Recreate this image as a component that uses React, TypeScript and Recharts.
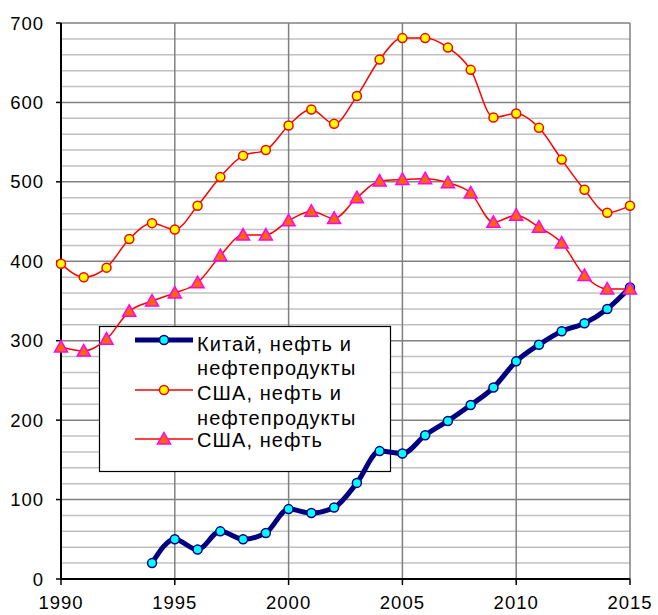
import { LineChart, Line, XAxis, YAxis, CartesianGrid } from 'recharts';

const YEARS = [
  1990, 1991, 1992, 1993, 1994, 1995, 1996, 1997, 1998, 1999, 2000, 2001, 2002,
  2003, 2004, 2005, 2006, 2007, 2008, 2009, 2010, 2011, 2012, 2013, 2014, 2015,
];

// Китай, нефть и нефтепродукты (с 1994 г.)
const CHINA_YEARS = YEARS.slice(4);
const CHINA = [
  20, 50, 37, 60, 50, 58, 88, 83, 90, 121, 161, 158, 181, 199, 219, 241, 274,
  295, 312, 322, 340, 367,
];

// США, нефть и нефтепродукты
const USA_TOTAL = [
  397, 380, 392, 428, 448, 440, 470, 506, 533, 540, 571, 591, 573, 608, 654,
  681, 681, 669, 641, 581, 586, 568, 528, 490, 461, 470,
];

// США, нефть
const USA_CRUDE = [
  292, 287, 302, 337, 350, 360, 373, 407, 433, 433, 451, 463, 454, 480, 501,
  503, 504, 499, 486, 449, 458, 443, 423, 382, 365, 365,
];

const Y_TICKS = [0, 100, 200, 300, 400, 500, 600, 700];
const X_TICKS = [1990, 1995, 2000, 2005, 2010, 2015];
const MINOR_GRID = Array.from({ length: 35 }, (_, i) => (i + 1) * 20).filter(
  (v) => v % 100 !== 0,
);

const chinaData = CHINA_YEARS.map((year, i) => ({ year, value: CHINA[i] }));
const usaTotalData = YEARS.map((year, i) => ({ year, value: USA_TOTAL[i] }));
const usaCrudeData = YEARS.map((year, i) => ({ year, value: USA_CRUDE[i] }));

const FONT = 'Arial, "Liberation Sans", sans-serif';

function Triangle({ cx, cy }: { cx: number; cy: number }) {
  return (
    <path
      d={`M${cx},${cy - 6.5}L${cx + 6.5},${cy + 5}L${cx - 6.5},${cy + 5}Z`}
      fill="#ff6600"
      stroke="#ff00ff"
      strokeWidth={1.5}
    />
  );
}

function triangleDot(props: any) {
  const { cx, cy, index } = props;
  if (cx == null || cy == null) return <g key={index} />;
  return <Triangle key={index} cx={cx} cy={cy} />;
}

function LegendBox() {
  const textStyle = { fontFamily: FONT, fontSize: 20, fill: '#000', letterSpacing: 1.1 };
  return (
    <g>
      <rect x={99.5} y={326.5} width={291} height={145} fill="#fff" stroke="#000" strokeWidth={1.2} />
      <line x1={135} y1={340} x2={193} y2={340} stroke="#000080" strokeWidth={5} />
      <circle cx={164} cy={340} r={4.5} fill="#00ffff" stroke="#000080" strokeWidth={1.5} />
      <line x1={135} y1={390} x2={193} y2={390} stroke="#ff0000" strokeWidth={1.5} />
      <circle cx={164} cy={390} r={4.5} fill="#ffff00" stroke="#ff0000" strokeWidth={1.5} />
      <line x1={135} y1={439} x2={193} y2={439} stroke="#ff0000" strokeWidth={1.5} />
      <Triangle cx={164} cy={439} />
      <text x={197} y={351} style={textStyle}>Китай, нефть и</text>
      <text x={197} y={375} style={textStyle}>нефтепродукты</text>
      <text x={197} y={400} style={textStyle}>США, нефть и</text>
      <text x={197} y={425} style={textStyle}>нефтепродукты</text>
      <text x={197} y={447} style={textStyle}>США, нефть</text>
    </g>
  );
}

export default function App() {
  const tickStyle = { fontFamily: FONT, fontSize: 18.5, fill: '#000', letterSpacing: 1 };
  return (
    <div style={{ position: 'absolute', left: 0, top: 0, background: '#fff' }}>
      <LineChart
        width={658}
        height={615}
        margin={{ top: 23, right: 28, bottom: 0, left: 0 }}
      >
        <CartesianGrid
          horizontalValues={MINOR_GRID}
          vertical={false}
          stroke="#c0c0c0"
          strokeWidth={1.5}
        />
        <CartesianGrid
          horizontalValues={Y_TICKS}
          verticalValues={X_TICKS}
          stroke="#808080"
          strokeWidth={1.5}
        />
        <XAxis
          dataKey="year"
          type="number"
          domain={[1990, 2015]}
          ticks={X_TICKS}
          allowDuplicatedCategory={false}
          height={36}
          tickSize={6}
          tickMargin={11}
          tick={tickStyle}
          axisLine={{ stroke: '#000', strokeWidth: 2 }}
          tickLine={{ stroke: '#000', strokeWidth: 1.5 }}
          interval={0}
        />
        <YAxis
          type="number"
          domain={[0, 700]}
          ticks={Y_TICKS}
          width={61}
          tickSize={5}
          tickMargin={12}
          tick={tickStyle}
          axisLine={{ stroke: '#000', strokeWidth: 2 }}
          tickLine={{ stroke: '#000', strokeWidth: 1.5 }}
          interval={0}
        />
        <LegendBox />
        <Line
          data={chinaData}
          dataKey="value"
          type="monotone"
          stroke="#000080"
          strokeWidth={5}
          dot={{ r: 4.5, fill: '#00ffff', stroke: '#000080', strokeWidth: 1.5 }}
          isAnimationActive={false}
        />
        <Line
          data={usaTotalData}
          dataKey="value"
          type="monotone"
          stroke="#ff0000"
          strokeWidth={1.5}
          dot={{ r: 4.5, fill: '#ffff00', stroke: '#ff0000', strokeWidth: 1.5 }}
          isAnimationActive={false}
        />
        <Line
          data={usaCrudeData}
          dataKey="value"
          type="monotone"
          stroke="#ff0000"
          strokeWidth={1.5}
          dot={triangleDot}
          isAnimationActive={false}
        />
      </LineChart>
    </div>
  );
}
